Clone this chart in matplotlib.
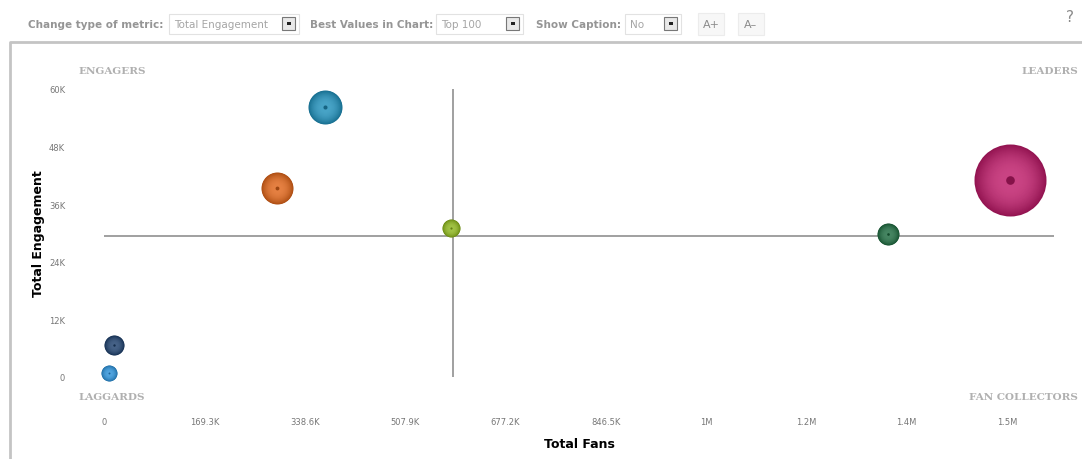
import numpy as np
import matplotlib
matplotlib.use('Agg')
import matplotlib.pyplot as plt
from matplotlib.patches import Rectangle
from matplotlib.colors import to_rgb

# =============================================================================
# Data
# =============================================================================
fans = [373000, 292000, 586000, 1323000, 1529000, 17000, 8400]
engagement = [56200, 39300, 31000, 29700, 41000, 6650, 830]
bubble_size = [289, 256, 81, 121, 1296, 100, 64]
bubble_colors = ['#1f8fba', '#df6418', '#8cb51b', '#1d6a3f', '#bd1a68', '#1d3f6c', '#2a90d8']

x_ticks = [0, 169300, 338600, 507900, 677200, 846500, 1015800, 1185100, 1354400, 1523700]
x_ticklabels = ['0', '169.3K', '338.6K', '507.9K', '677.2K', '846.5K', '1M', '1.2M', '1.4M', '1.5M']
y_ticks = [0, 12000, 24000, 36000, 48000, 60000]
y_ticklabels = ['0', '12K', '24K', '36K', '48K', '60K']
fans_mid = 589000
engagement_mid = 29300
x_max = 1603000

W, H = 1082, 460
fig = plt.figure(figsize=(W/100., H/100.), dpi=100)

# -----------------------------------------------------------------------------
# toolbar on top
# -----------------------------------------------------------------------------
tb = fig.add_axes([0, 0, 1, 1])
tb.set_xlim(0, W)
tb.set_ylim(H, 0)
tb.axis('off')
lab = dict(fontsize=7.5, color='#959595', fontweight='bold', va='center', family='DejaVu Sans')
tb.text(28, 25, 'Change type of metric:', **lab)
tb.text(310, 25, 'Best Values in Chart:', **lab)
tb.text(536, 25, 'Show Caption:', **lab)
for x0, w, txt in [(169, 130, 'Total Engagement'), (436, 87, 'Top 100'), (625, 56, 'No')]:
    tb.add_patch(Rectangle((x0, 15), w, 20, fc='white', ec='#e2e2e2', lw=0.8))
    tb.text(x0 + 5, 25, txt, fontsize=7.5, color='#a5a5a5', va='center')
    tb.add_patch(Rectangle((x0 + w - 17, 18), 13, 13, fc='#e8e8e8', ec='#777777', lw=0.8))
    tb.add_patch(Rectangle((x0 + w - 12.5, 23), 4, 3, fc='#222222', ec='none'))
for x0, txt in [(698, 'A+'), (738, 'A\u2013')]:
    tb.add_patch(Rectangle((x0, 14), 26, 22, fc='#f7f7f7', ec='#ececec', lw=0.8))
    tb.text(x0 + 13, 25, txt, fontsize=8, color='#8a8a8a', ha='center', va='center')
tb.text(1070, 18, '?', fontsize=11, color='#8a8a8a', ha='center', va='center')
# chart frame
tb.plot([10, 10, W], [H, 43, 43], color='#c4c4c4', lw=2)

# quadrant captions
quad = dict(fontsize=7.5, color='#b0b0b0', fontweight='bold', family='DejaVu Serif', va='center')
tb.text(78, 71, 'ENGAGERS', **quad)
tb.text(1078, 71, 'LEADERS', ha='right', **quad)
tb.text(78, 398, 'LAGGARDS', **quad)
tb.text(1078, 398, 'FAN COLLECTORS', ha='right', **quad)

# -----------------------------------------------------------------------------
# bubble chart
# -----------------------------------------------------------------------------
ax = fig.add_axes([104/W, (H-378)/H, 950/W, 288/H])
ax.set_xlim(0, x_max)
ax.set_ylim(0, 60000)
for s in ax.spines.values():
    s.set_visible(False)
ax.tick_params(length=0, labelsize=6, labelcolor='#777777')
ax.set_xticks(x_ticks)
ax.set_xticklabels(x_ticklabels)
ax.set_yticks(y_ticks)
ax.set_yticklabels(y_ticklabels)
ax.tick_params(axis='x', pad=29)
ax.tick_params(axis='y', pad=28)
ax.set_xlabel('Total Fans', fontsize=9, fontweight='bold', labelpad=8)
ax.set_ylabel('Total Engagement', fontsize=9, fontweight='bold', labelpad=3)

ax.axhline(engagement_mid, color='#999999', lw=1.3, zorder=1)
ax.axvline(fans_mid, color='#999999', lw=1.3, zorder=1)

# sphere look: stacked circles getting lighter towards the middle
n_layers = 30
for x, y, z, c in zip(fans, engagement, bubble_size, bubble_colors):
    base = np.array(to_rgb(c))
    dark = base * 0.78
    light = base + (1 - base) * 0.18
    d = 2 * np.sqrt(z) * 0.72
    for k in range(n_layers):
        f = k / (n_layers - 1.)
        col = dark * (1 - f) ** 2 + light * (1 - (1 - f) ** 2)
        ax.scatter([x], [y], s=(d * (1 - 0.8 * f)) ** 2, color=col, lw=0,
                   zorder=3 + k * 0.01, clip_on=False)
    ax.scatter([x], [y], s=(d * 0.12) ** 2, color=dark * 0.9, lw=0, zorder=4, clip_on=False)

plt.savefig('out.png', dpi=100)
